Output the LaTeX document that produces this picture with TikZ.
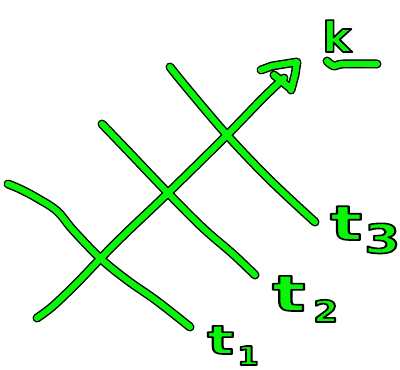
\documentclass[tikz,border=0pt]{standalone}
\usepackage{fontspec}
\setsansfont{DejaVu Sans}
\definecolor{pen}{RGB}{10,245,10}
\newcommand{\lbl}[2][1.3]{\scalebox{#1}[1]{\textcolor{pen}{\special{pdf:literal direct 0 G 1.6 w 1 j 2 Tr}#2\special{pdf:literal direct 0 Tr}}}}
\tikzset{
  outl/.style={draw=black,line width=9pt,line cap=round,line join=round},
  inkl/.style={draw=pen,line width=6.2pt,line cap=round,line join=round},
  lab/.style={inner sep=0pt,anchor=base west}
}
\newcommand{\allstrokes}[1]{%
  \draw[#1] plot[smooth,tension=0.6] coordinates {(8,184) (20,189) (37,198) (57,211) (73,230) (100,258) (127,280) (157,301) (190,327)};
  \draw[#1] plot[smooth,tension=0.6] coordinates {(102,124) (127,150) (168,193) (203,228) (233,254) (255,275)};
  \draw[#1] plot[smooth,tension=0.6] coordinates {(170,67) (187,88) (227,135) (270,180) (315,222)};
  \draw[#1] plot[smooth,tension=0.6] coordinates {(37,318) (53,306) (77,283) (100,259) (127,232) (168,193) (227,135) (263,98) (284,78)};
  \draw[#1] (261,70) -- (272,66) -- (297,62) -- (295,75) -- (291,90) (274,75) -- (290,88);
  \draw[#1] plot[smooth,tension=0.6] coordinates {(327,61) (334,66) (343,64) (377,64)};
}
\begin{document}
\begin{tikzpicture}[x=1pt,y=-1pt]
\useasboundingbox (0,0) rectangle (400,370);
\allstrokes{outl}
\allstrokes{inkl}
\node[lab,font=\sffamily\bfseries\fontsize{42}{42}\selectfont] (k) at (322,52) {\lbl[1.05]{k}};
\node[lab,font=\sffamily\bfseries\fontsize{48}{48}\selectfont] (t3) at (330,240) {\lbl[1.4]{t}};
\node[lab,font=\sffamily\bfseries\fontsize{40}{40}\selectfont] (n3) at (364,253) {\lbl[1.3]{3}};
\node[lab,font=\sffamily\bfseries\fontsize{50}{50}\selectfont] (t2) at (272,311) {\lbl[1.4]{t}};
\node[lab,font=\sffamily\bfseries\fontsize{30}{30}\selectfont] (n2) at (313,322) {\lbl[1.2]{2}};
\node[lab,font=\sffamily\bfseries\fontsize{40}{40}\selectfont] (t1) at (207,354) {\lbl[1.4]{t}};
\node[lab,font=\sffamily\bfseries\fontsize{26}{26}\selectfont] (n1) at (237,365) {\lbl[1.2]{1}};
\end{tikzpicture}
\end{document}
